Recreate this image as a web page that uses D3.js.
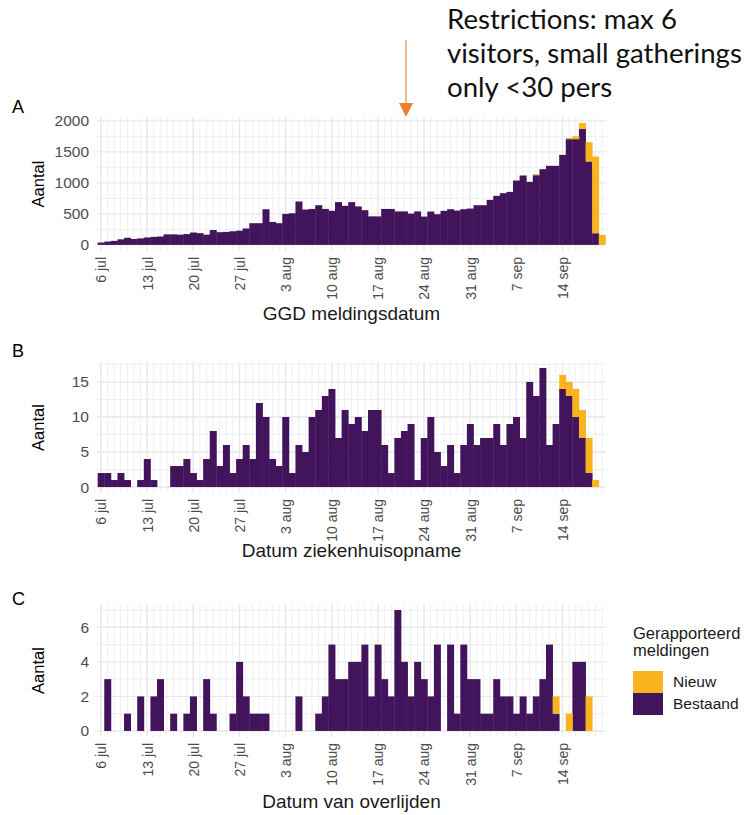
<!DOCTYPE html>
<html><head><meta charset="utf-8">
<script src="https://cdn.jsdelivr.net/npm/d3@7"></script>
<style>body{margin:0;background:#fff} svg text{font-family:"Liberation Sans", Arial, Helvetica, sans-serif;}</style>
</head><body><svg id="chart" width="749" height="815"></svg>
<script>
// ---------- data ----------
const firstDay = new Date(2020, 6, 6);   // 6 jul 2020
const nDays = 77;                        // 6 jul .. 20 sep
const tickLabels = ["6 jul","13 jul","20 jul","27 jul","3 aug","10 aug","17 aug","24 aug","31 aug","7 sep","14 sep"];
const seriesNames = ["Nieuw","Bestaand"];

const bestaandA = [38,54,65,90,115,95,105,120,130,135, 170,170,165,175,200,190,165,240,205,210,
  220,230,265,350,350,575,370,350,500,510, 700,570,580,640,580,550,690,630,690,620,
  560,460,460,580,580,540,540,505,540,457, 538,495,549,576,554,576,586,640,640,726,
  791,834,855,1038,1119,1017,1124,1221,1275,1275, 1452,1705,1705,1872,1345,188,0];
const nieuwA = [0,0,0,0,0,0,0,0,0,0, 0,0,0,0,0,0,0,0,0,0, 0,0,0,0,0,0,0,0,0,0,
  0,0,0,0,0,0,0,0,0,0, 0,0,0,0,0,0,0,0,0,0, 0,0,0,0,0,0,0,0,0,0,
  0,0,0,0,0,0,16,0,0,0, 0,20,45,92,312,1238,161];

const bestaandB = [2,2,1,2,1,0,1,4,1,0, 0,3,3,4,2,1,4,8,3,6, 2,4,6,4,12,10,4,3,10,2,
  6,5,10,11,13,14,7,11,9,10, 8,11,11,6,2,7,8,9,1,7, 10,5,3,6,2,6,9,6,7,7,
  9,6,9,10,7,15,13,17,6,9, 14,13,10,7,2,0,0];
const nieuwB = [0,0,0,0,0,0,0,0,0,0, 0,0,0,0,0,0,0,0,0,0, 0,0,0,0,0,0,0,0,0,0,
  0,0,0,0,0,0,0,0,0,0, 0,0,0,0,0,0,0,0,0,0, 0,0,0,0,0,0,0,0,0,0,
  0,0,0,0,0,0,0,0,0,0, 2,2,4,4,5,1,0];

const bestaandC = [0,3,0,0,1,0,2,0,2,3, 0,1,0,1,2,0,3,1,0,0, 1,4,2,1,1,1,0,0,0,0,
  2,0,0,1,2,5,3,3,4,4, 5,2,5,3,2,7,4,2,4,3, 2,5,0,5,1,5,3,3,1,1,
  3,2,2,1,2,1,2,3,5,1, 0,0,4,4,0,0,0];
const nieuwC = [0,0,0,0,0,0,0,0,0,0, 0,0,0,0,0,0,0,0,0,0, 0,0,0,0,0,0,0,0,0,0,
  0,0,0,0,0,0,0,0,0,0, 0,0,0,0,0,0,0,0,0,0, 0,0,0,0,0,0,0,0,0,0,
  0,0,0,0,0,0,0,0,0,1, 0,1,0,0,2,0,0];

const yTicksA = [0,500,1000,1500,2000];
const yTicksB = [0,5,10,15];
const yTicksC = [0,2,4,6];

const annotationLines = ["Restrictions: max 6","visitors, small gatherings","only <30 pers"];
const legendTitle = ["Gerapporteerd","meldingen"];

// ---------- styles ----------
const colors = {Nieuw:"#f9b31e", Bestaand:"#42145b"};
const gridCol = "#e9e9e9";
const textGrey = "#4d4d4d";
const FAM = '"Liberation Sans", Arial, Helvetica, sans-serif';

const svg = d3.select("#chart");
const dayMs = 864e5;
const dates = d3.range(nDays).map(i => d3.timeDay.offset(firstDay, i));
const tickDates = tickLabels.map((_, i) => d3.timeDay.offset(firstDay, 7 * i));
const x = d3.scaleTime()
  .domain([new Date(+firstDay - 0.6 * dayMs), new Date(+dates[nDays - 1] + 0.6 * dayMs)])
  .range([97, 606]);

const panels = [
  {letter:"A", letterY:113, top:117, bottom:251, b:bestaandA, n:nieuwA, ticks:yTicksA, step:500, title:"GGD meldingsdatum", titleY:320},
  {letter:"B", letterY:357, top:362, bottom:493, b:bestaandB, n:nieuwB, ticks:yTicksB, step:5, title:"Datum ziekenhuisopname", titleY:557},
  {letter:"C", letterY:605, top:604, bottom:737, b:bestaandC, n:nieuwC, ticks:yTicksC, step:2, title:"Datum van overlijden", titleY:808}
];

function txt(sel, size, fill) {
  return sel.attr("font-family", FAM).style("font-family", FAM)
    .attr("font-size", size).style("font-size", size + "px").attr("fill", fill);
}

panels.forEach(p => {
  const rows = dates.map((d, i) => ({date:d, Bestaand:p.b[i], Nieuw:p.n[i]}));
  const maxV = d3.max(rows, r => r.Bestaand + r.Nieuw);
  const y = d3.scaleLinear().domain([-0.05 * maxV, 1.05 * maxV]).range([p.bottom, p.top]);
  const g = svg.append("g");
  const [x0, x1] = x.range();

  const minor = [];
  for (let v = p.step / 2; v <= 1.05 * maxV; v += p.step) minor.push(v);
  g.selectAll(".hmin").data(minor).join("line")
    .attr("x1", x0).attr("x2", x1).attr("y1", d => y(d)).attr("y2", d => y(d))
    .attr("stroke", gridCol).attr("stroke-width", 0.7);
  g.selectAll(".vmin").data(dates).join("line")
    .attr("x1", d => x(d)).attr("x2", d => x(d)).attr("y1", p.top).attr("y2", p.bottom)
    .attr("stroke", gridCol).attr("stroke-width", 0.7);
  g.selectAll(".hmaj").data(p.ticks).join("line")
    .attr("x1", x0).attr("x2", x1).attr("y1", d => y(d)).attr("y2", d => y(d))
    .attr("stroke", gridCol).attr("stroke-width", 1.4);
  g.selectAll(".vmaj").data(tickDates).join("line")
    .attr("x1", d => x(d)).attr("x2", d => x(d)).attr("y1", p.top).attr("y2", p.bottom)
    .attr("stroke", gridCol).attr("stroke-width", 1.4);

  const stack = d3.stack().keys(["Bestaand","Nieuw"])(rows);
  g.selectAll(".layer").data(stack).join("g")
    .attr("fill", s => colors[s.key])
    .selectAll("rect").data(s => s.filter(d => d[1] > d[0])).join("rect")
    .attr("x", d => x(new Date(+d.data.date - 0.5 * dayMs)))
    .attr("width", d => x(new Date(+d.data.date + 0.5 * dayMs)) - x(new Date(+d.data.date - 0.5 * dayMs)) + 0.4)
    .attr("y", d => y(d[1]))
    .attr("height", d => y(d[0]) - y(d[1]));

  const ya = g.append("g").attr("transform", `translate(${x0},0)`)
    .call(d3.axisLeft(y).tickValues(p.ticks).tickFormat(d3.format("d")).tickSize(0).tickPadding(8));
  ya.select(".domain").remove();
  txt(ya.selectAll("text"), 15.5, textGrey);

  const xa = g.append("g").attr("transform", `translate(0,${p.bottom})`)
    .call(d3.axisBottom(x).tickValues(tickDates).tickFormat((d, i) => tickLabels[i]).tickSize(0));
  xa.select(".domain").remove();
  txt(xa.selectAll("text"), 14, textGrey)
    .attr("transform", "rotate(-90)")
    .attr("text-anchor", "end").attr("x", -6).attr("y", 0).attr("dy", "0.35em");

  txt(svg.append("text"), 19, "#1a1a1a").attr("x", (x0 + x1) / 2).attr("y", p.titleY)
    .attr("text-anchor", "middle").text(p.title);
  txt(svg.append("text"), 16.5, "#000").attr("transform", `translate(44,${(p.top + p.bottom) / 2}) rotate(-90)`)
    .attr("text-anchor", "middle").text("Aantal");
  txt(svg.append("text"), 18, "#000").attr("x", 12).attr("y", p.letterY).text(p.letter);
});

// ---------- legend ----------
const lg = svg.append("g");
legendTitle.forEach((t, i) => txt(lg.append("text"), 16.5, "#1a1a1a").attr("x", 633).attr("y", 639 + i * 17).text(t));
seriesNames.forEach((s, i) => {
  lg.append("rect").attr("x", 633).attr("y", 671 + i * 22).attr("width", 30).attr("height", 22).attr("fill", colors[s]);
  txt(lg.append("text"), 15.5, "#1a1a1a").attr("x", 673).attr("y", 682 + i * 22).attr("dy", "0.35em").text(s);
});

// ---------- annotation ----------
const ann = svg.append("g");
const annTexts = annotationLines.map((t, i) => ann.append("text").attr("x", 447).attr("y", 29 + i * 34)
  .style("font-family", "Lato, 'Open Sans', sans-serif").style("font-size", "24px").attr("fill", "#111").text(t));
const w = annTexts[1].node().getComputedTextLength();
const fs = 24 * 295 / w;
annTexts.forEach(t => t.style("font-size", fs + "px"));
ann.append("line").attr("x1", 406).attr("x2", 406).attr("y1", 40).attr("y2", 106)
  .attr("stroke", "#e08a45").attr("stroke-width", 1.2);
ann.append("path").attr("d", "M399,103 L413,103 L406,117 Z").attr("fill", "#ed7d31");
</script>
</body></html>
